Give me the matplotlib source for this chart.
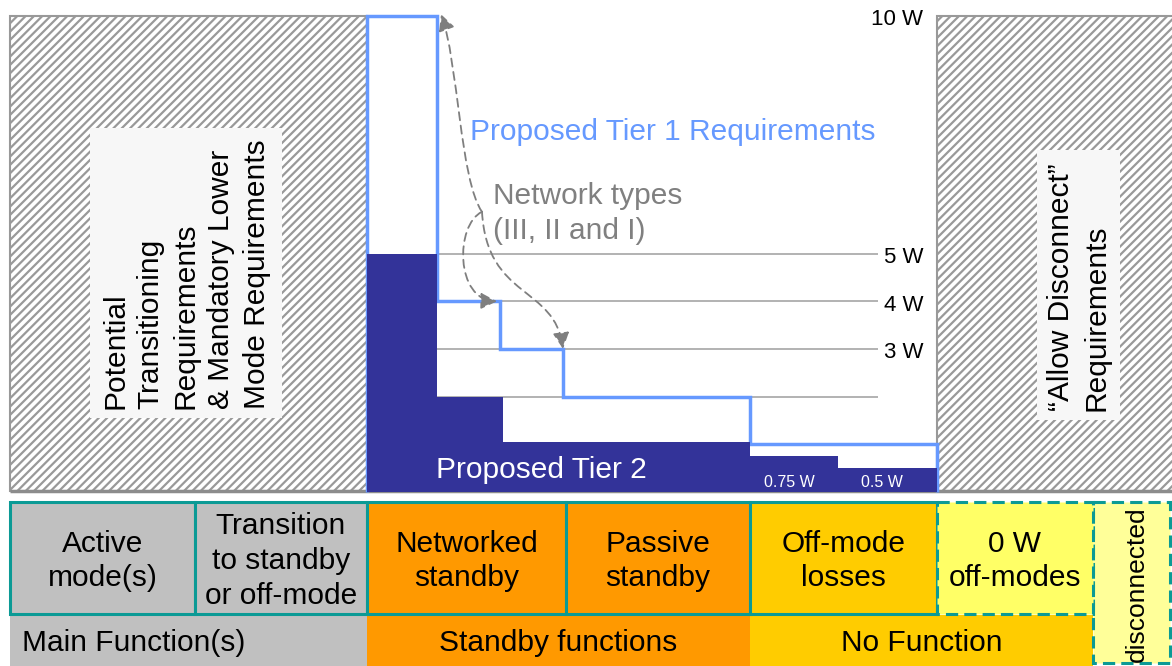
import matplotlib
matplotlib.use("Agg")
import matplotlib.pyplot as plt
from matplotlib.patches import Rectangle, FancyArrowPatch
from matplotlib.path import Path

plt.rcParams['font.family'] = ['Liberation Sans', 'DejaVu Sans']
plt.rcParams['hatch.linewidth'] = 1.6
plt.rcParams['hatch.color'] = '#999999'

# ---------------- data ----------------
tier1_edges = [367, 437, 500, 563, 750, 937]
tier1_watts = [10, 4, 3, 2, 1]
tier2_edges = [367, 437, 503, 750, 838, 937]
tier2_watts = [5, 2, 1.04, 0.75, 0.5]
grid_watts = [5, 4, 3, 2]
watt_labels = [10, 5, 4, 3]
small_labels = ["0.75 W", "0.5 W"]

mode_labels = ["Active\nmode(s)", "Transition\nto standby\nor off-mode",
               "Networked\nstandby", "Passive\nstandby", "Off-mode\nlosses",
               "0 W\noff-modes", "disconnected"]
mode_edges = [10, 195, 367, 566, 750, 937, 1093, 1170]
mode_colors = ['#c0c0c0', '#c0c0c0', '#ff9900', '#ff9900', '#ffcc00',
               '#ffff66', '#ffff99']
function_labels = ["Main Function(s)", "Standby functions", "No Function"]
function_edges = [10, 367, 750, 1093]
function_colors = ['#c0c0c0', '#ff9900', '#ffcc00']

left_note = "Potential\nTransitioning\nRequirements\n& Mandatory Lower\nMode Requirements"
right_note = "\u201cAllow Disconnect\u201d\nRequirements"

# ---------------- figure ----------------
W, H = 1172, 666
fig = plt.figure(figsize=(W / 100, H / 100), dpi=100)

# pixel-coordinate layer
axp = fig.add_axes([0, 0, 1, 1])
axp.set_xlim(0, W)
axp.set_ylim(H, 0)
axp.axis('off')

FS = 21.5
LS = 1.31
teal = '#0b9a95'
gray_edge = '#8c8c8c'

# hatched panels
axp.add_patch(Rectangle((10, 16), 357, 475, facecolor='white', edgecolor='#999999',
                        hatch='////', lw=1.5, zorder=1))
axp.add_patch(Rectangle((937, 16), 240, 475, facecolor='white', edgecolor='#999999',
                        hatch='////', lw=1.5, zorder=1))
axp.plot([10, W], [491, 491], color=gray_edge, lw=2.5, zorder=5, solid_capstyle='butt')

# note boxes
axp.add_patch(Rectangle((90, 128), 192, 290, facecolor='#f7f7f7', edgecolor='none', zorder=2))
axp.text(186, 409, left_note, rotation=90, ha='center', va='bottom',
         multialignment='left', fontsize=FS, linespacing=1.33, zorder=3)
axp.add_patch(Rectangle((1037, 150), 83, 270, facecolor='#f7f7f7', edgecolor='none', zorder=2))
axp.text(1078.5, 411, right_note, rotation=90, ha='center', va='bottom',
         multialignment='left', fontsize=FS, linespacing=1.33, zorder=3)

# table row 1 (modes)
row1_top, row1_bot = 502, 614
for i, lab in enumerate(mode_labels):
    x0, x1 = mode_edges[i], mode_edges[i + 1]
    if lab == "disconnected":
        axp.add_patch(Rectangle((x0, row1_top), x1 - x0, 663 - row1_top,
                                facecolor=mode_colors[i], edgecolor=teal, lw=2.2,
                                linestyle=(0, (4, 2)), zorder=3))
        axp.text((x0 + x1) / 2 + 5, 584, lab, rotation=90, ha='center', va='center',
                 fontsize=19, zorder=4)
    else:
        dashed = lab.startswith("0 W")
        axp.add_patch(Rectangle((x0, row1_top), x1 - x0, row1_bot - row1_top,
                                facecolor=mode_colors[i], edgecolor=teal, lw=2.2,
                                linestyle=(0, (4, 2)) if dashed else '-',
                                zorder=4 if dashed else 3))
        axp.text((x0 + x1) / 2, 561, lab, ha='center', va='center',
                 fontsize=FS, linespacing=LS, zorder=5)

# table row 2 (functions)
for i, lab in enumerate(function_labels):
    x0, x1 = function_edges[i], function_edges[i + 1]
    axp.add_patch(Rectangle((x0, 615), x1 - x0, H - 615, facecolor=function_colors[i],
                            edgecolor='none', zorder=2))
    if i == 0:
        axp.text(x0 + 12, 643, lab, ha='left', va='center', fontsize=FS, zorder=5)
    else:
        axp.text((x0 + x1) / 2, 643, lab, ha='center', va='center', fontsize=FS, zorder=5)

# ---------------- chart layer (y in watts) ----------------
ax = fig.add_axes([0, 0, 1, 1])
ax.set_xlim(0, W)
px_per_w = 47.6
zero_px = 491.7
ax.set_ylim((zero_px - H) / px_per_w, zero_px / px_per_w)
ax.patch.set_visible(False)
ax.axis('off')

navy = '#333399'
blue = '#6699ff'
grid_gray = '#a6a6a6'

ax.hlines(grid_watts, 437, 878, color=grid_gray, lw=1.2, zorder=1)
ax.stairs(tier1_watts, tier1_edges, baseline=0, fill=False, color=blue, lw=2.5, zorder=2)
ax.stairs(tier2_watts, tier2_edges, baseline=0, fill=True, color=navy, zorder=3)

for v in watt_labels:
    ax.text(923, v - 0.2, f"{v} W", ha='right', va='baseline', fontsize=16, zorder=4)

ax.text(470, 7.39, "Proposed Tier 1 Requirements", color=blue, fontsize=FS,
        ha='left', va='baseline', zorder=4)
ax.text(493, 6.04, "Network types", color='#808080', fontsize=FS,
        ha='left', va='baseline', zorder=4)
ax.text(493, 5.31, "(III, II and I)", color='#808080', fontsize=FS,
        ha='left', va='baseline', zorder=4)
ax.text(436, 0.29, "Proposed Tier 2", color='white', fontsize=FS,
        ha='left', va='baseline', zorder=4)
ax.text(764, 0.10, small_labels[0], color='white', fontsize=11.5,
        ha='left', va='baseline', zorder=4)
ax.text(861, 0.10, small_labels[1], color='white', fontsize=11.5,
        ha='left', va='baseline', zorder=4)

# dashed arrows from the "Network types" label to Tier 1 corners
origin = (482, 5.88)
targets = [(tier1_edges[1] + 4, tier1_watts[0] + 0.03),
           (tier1_edges[2] - 3, tier1_watts[1]),
           (tier1_edges[3], tier1_watts[2])]
controls = [((460, 6.54), (458, 9.07)),
            ((455, 5.61), (455, 4.02)),
            ((487, 4.03), (555, 4.34))]
for tgt, (c1, c2) in zip(targets, controls):
    p = Path([origin, c1, c2, tgt], [Path.MOVETO, Path.CURVE4, Path.CURVE4, Path.CURVE4])
    arr = FancyArrowPatch(path=p, arrowstyle='-|>,head_length=0.7,head_width=0.35',
                          mutation_scale=14, color='#7f7f7f', lw=1.3,
                          linestyle=(0, (4.5, 3)), shrinkA=0, shrinkB=0, zorder=5)
    ax.add_patch(arr)

fig.savefig("out.png", dpi=100)
